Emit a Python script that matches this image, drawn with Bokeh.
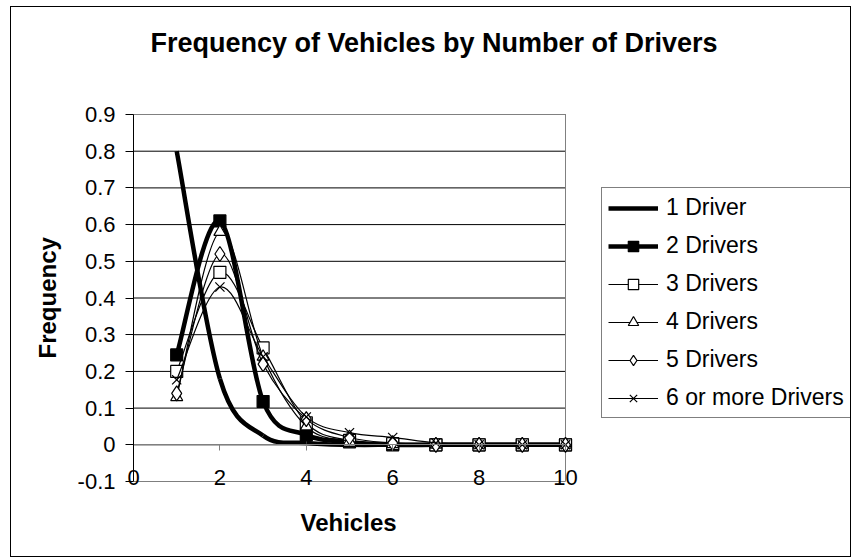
import numpy as np
from bokeh.plotting import figure
from bokeh.models import (FixedTicker, NumeralTickFormatter, LinearAxis, Legend,
                          LegendItem, Range1d, Label, Title)
from bokeh.embed import file_html
from bokeh.resources import INLINE

# ---- data ----
vehicles = [1, 2, 3, 4, 5, 6, 7, 8, 9, 10]
driver1 = [0.80, 0.18, 0.025, 0.005, 0.0, 0.0, 0.0, 0.0, 0.0, 0.0]
drivers2 = [0.245, 0.61, 0.118, 0.027, 0.008, 0.0, 0.0, 0.0, 0.0, 0.0]
drivers3 = [0.20, 0.47, 0.264, 0.06, 0.012, 0.003, 0.0, 0.0, 0.0, 0.0]
drivers4 = [0.13, 0.58, 0.24, 0.05, 0.01, 0.002, 0.0, 0.0, 0.0, 0.0]
drivers5 = [0.14, 0.52, 0.22, 0.07, 0.02, 0.005, 0.0, 0.0, 0.0, 0.0]
drivers6 = [0.177, 0.43, 0.24, 0.076, 0.033, 0.02, 0.005, 0.0, 0.0, 0.0]
series_names = ["1 Driver", "2 Drivers", "3 Drivers", "4 Drivers",
                "5 Drivers", "6 or more Drivers"]
y_ticks = [-0.1, 0, 0.1, 0.2, 0.3, 0.4, 0.5, 0.6, 0.7, 0.8, 0.9]
x_ticks = [0, 2, 4, 6, 8, 10]
title_text = "Frequency of Vehicles by Number of Drivers"
x_title = "Vehicles"
y_title = "Frequency"

X_MIN, X_MAX = 0, 10
Y_MIN, Y_MAX = -0.1, 0.9

# ---- layout (pixels) ----
FONT = "Liberation Sans"
LEFT_PAD = 122        # room for y labels
BOTTOM_PAD = 75       # room for x labels / title
PLOT_W, PLOT_H = 432, 367     # the plot area proper
FRAME_W, FRAME_H = 717, 474   # frame also hosts title and legend
TITLE_CX, TITLE_CY = 300.5, 35   # title centre, px from frame left / top

x_end = X_MIN + (X_MAX - X_MIN) * FRAME_W / PLOT_W
y_end = Y_MIN + (Y_MAX - Y_MIN) * FRAME_H / PLOT_H
px_x = (X_MAX - X_MIN) / PLOT_W
px_y = (Y_MAX - Y_MIN) / PLOT_H

p = figure(frame_width=FRAME_W, frame_height=FRAME_H, output_backend="svg",
           toolbar_location=None, title=None,
           x_range=Range1d(X_MIN, x_end), y_range=Range1d(Y_MIN, y_end),
           min_border_left=LEFT_PAD, min_border_right=0,
           min_border_top=0, min_border_bottom=BOTTOM_PAD)
p.styles = {"border": "1px solid black", "margin-left": "10px", "margin-top": "6px"}
p.background_fill_color = "white"
p.border_fill_color = "white"
p.outline_line_color = None
p.xgrid.visible = False
p.ygrid.visible = False

# chart title (inside the frame so it can sit anywhere)
p.add_layout(Label(x=X_MIN + TITLE_CX * px_x, y=y_end - TITLE_CY * px_y,
                   text=title_text, text_font=FONT, text_font_size="27px",
                   text_font_style="bold", text_color="black",
                   text_align="center", text_baseline="middle"))

# horizontal gridlines limited to the plot area
p.segment(x0=[X_MIN] * len(y_ticks), x1=[X_MAX] * len(y_ticks),
          y0=y_ticks, y1=y_ticks, line_color="black", line_width=1)
# plot area border
p.quad(left=[X_MIN], right=[X_MAX], bottom=[Y_MIN], top=[Y_MAX],
       fill_color=None, line_color="#808080", line_width=1)

# y axis
ya = p.yaxis[0]
ya.bounds = (Y_MIN, Y_MAX)
ya.ticker = FixedTicker(ticks=y_ticks)
ya.formatter = NumeralTickFormatter(format="0.[0]")
ya.major_label_text_font = FONT
ya.major_label_text_font_size = "22px"
ya.major_label_text_color = "black"
ya.major_tick_out = 8
ya.major_tick_in = 0
ya.minor_tick_out = 0
ya.minor_tick_in = 0
ya.major_label_standoff = 10
ya.axis_line_color = "black"
ya.major_tick_line_color = "black"

# x axis labels (at bottom of plot area)
xa = p.xaxis[0]
xa.bounds = (X_MIN, X_MAX)
xa.ticker = FixedTicker(ticks=x_ticks)
xa.axis_line_color = None
xa.major_tick_line_color = None
xa.minor_tick_line_color = None
xa.major_tick_out = 0
xa.major_tick_in = 0
xa.minor_tick_out = 0
xa.minor_tick_in = 0
xa.major_label_text_font = FONT
xa.major_label_text_font_size = "22px"
xa.major_label_text_color = "black"
xa.major_label_standoff = -12

# x axis line crossing at y = 0
xa0 = LinearAxis(fixed_location=0, ticker=FixedTicker(ticks=x_ticks),
                 bounds=(X_MIN, X_MAX))
xa0.axis_line_color = "#808080"
xa0.major_tick_line_color = "#808080"
xa0.major_tick_out = 6
xa0.major_tick_in = 0
xa0.minor_tick_out = 0
xa0.minor_tick_in = 0
xa0.major_label_text_font_size = "0px"
xa0.major_label_text_alpha = 0
p.add_layout(xa0, "below")

# axis titles, centred on the plot area
xt = Title(text=x_title, align="left", offset=167, standoff=38,
           text_font=FONT, text_font_size="24px", text_font_style="bold",
           text_color="black")
p.add_layout(xt, "below")
yt = Title(text=y_title, align="left", offset=123, standoff=28,
           text_font=FONT, text_font_size="24px", text_font_style="bold",
           text_color="black")
p.add_layout(yt, "left")


def smooth_bezier(xs, ys):
    x = np.asarray(xs, dtype=float)
    y = np.asarray(ys, dtype=float)
    xp = np.concatenate([[x[0]], x, [x[-1]]])
    yp = np.concatenate([[y[0]], y, [y[-1]]])
    n = len(x)
    x0, y0 = x[:-1], y[:-1]
    x1, y1 = x[1:], y[1:]
    cx0 = x0 + (xp[2:n + 1] - xp[0:n - 1]) / 6.0
    cy0 = y0 + (yp[2:n + 1] - yp[0:n - 1]) / 6.0
    cx1 = x1 - (xp[3:n + 2] - xp[1:n]) / 6.0
    cy1 = y1 - (yp[3:n + 2] - yp[1:n]) / 6.0
    return dict(x0=x0, y0=y0, x1=x1, y1=y1, cx0=cx0, cy0=cy0, cx1=cx1, cy1=cy1)


series = [driver1, drivers2, drivers3, drivers4, drivers5, drivers6]
widths = [4.5, 4.5, 1.2, 1.2, 1.2, 1.2]
markers = [None, "square", "square", "triangle", "diamond", "x"]
msizes = [0, 12, 12, 12, 15, 13]
fills = [None, "black", "white", "white", "white", None]

items = []
for name, ys, lw, mk, ms, fc in zip(series_names, series, widths, markers, msizes, fills):
    b = smooth_bezier(vehicles, ys)
    r_line = p.bezier(line_color="black", line_width=lw, **b)
    rends = [r_line]
    if mk is not None:
        r_pt = p.scatter(vehicles, ys, marker=mk, size=ms, line_color="black",
                         line_width=1.2, fill_color=fc if fc else "white",
                         fill_alpha=1.0 if fc else 0.0)
        rends.append(r_pt)
    items.append(LegendItem(label=name, renderers=rends, index=0))

legend = Legend(items=items, location=(PLOT_W + 36, 63), orientation="vertical")
legend.label_text_font = FONT
legend.label_text_font_size = "23px"
legend.label_text_color = "black"
legend.glyph_width = 50
legend.glyph_height = 26
legend.label_height = 26
legend.spacing = 11
legend.padding = 6
legend.margin = 0
legend.label_standoff = 8
legend.border_line_color = "black"
legend.border_line_width = 1
legend.background_fill_color = "white"
legend.background_fill_alpha = 1
p.add_layout(legend, "center")

open("out.html", "w").write(file_html(p, INLINE))
